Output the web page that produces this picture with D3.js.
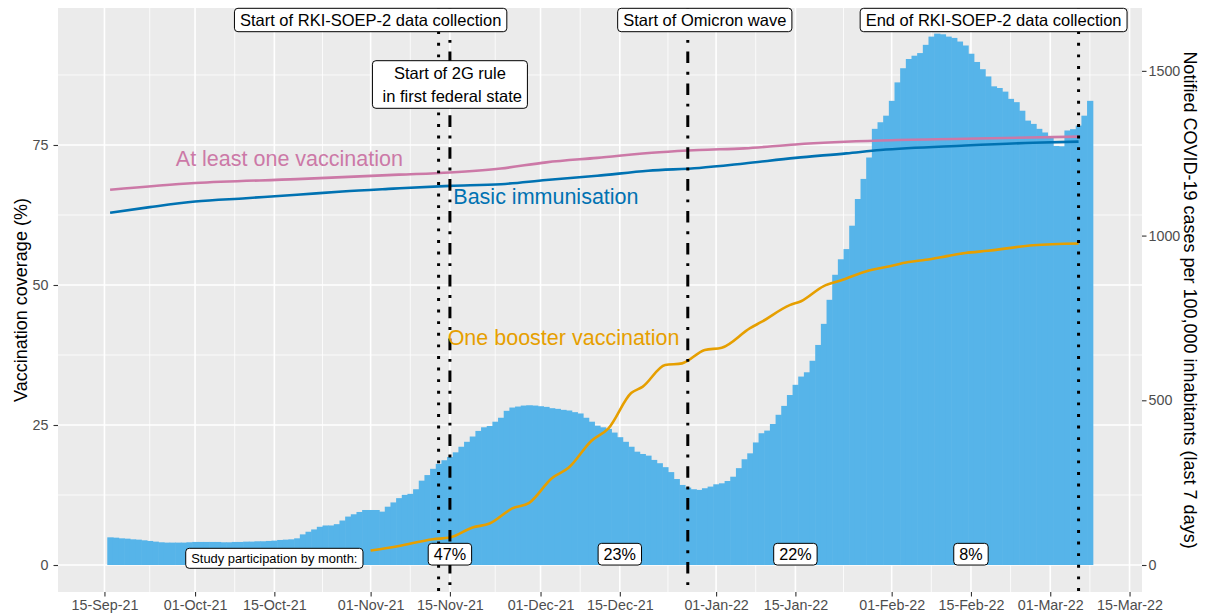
<!DOCTYPE html>
<html>
<head>
<meta charset="utf-8">
<script src="https://cdn.jsdelivr.net/npm/d3@7"></script>
<style>
  body { margin: 0; background: #fff; }
  svg { display: block; font-family: "Liberation Sans", Arial, sans-serif; }
</style>
</head>
<body>
<div id="chart"></div>
<script>
const svgWidth = 1206
const svgHeight = 616
const panel = { left: 58, right: 1142, top: 8, bottom: 592 }

// notified cases per 100,000 (last 7 days), one bar per day from caseStart
const caseStart = "2021-09-16"
const incidence = [
  84, 83, 81, 80, 78, 77, 75, 73, 71, 69,
  68, 68, 68, 68, 69, 70, 70, 70, 70, 70,
  69, 69, 70, 70, 71, 71, 72, 72, 73, 74,
  76, 77, 78, 81, 93, 101, 108, 116, 120, 120,
  124, 135, 147, 154, 161, 167, 167, 167, 162, 177,
  190, 203, 213, 216, 230, 256, 273, 292, 307, 318,
  328, 342, 359, 374, 390, 407, 418, 422, 435, 447,
  468, 478, 481, 484, 485, 484, 482, 480, 476, 474,
  471, 469, 464, 460, 447, 435, 423, 418, 413, 402,
  388, 374, 359, 344, 337, 332, 319, 309, 297, 282,
  261, 243, 235, 230, 228, 233, 238, 245, 248, 255,
  268, 294, 321, 339, 372, 400, 408, 428, 456, 483,
  516, 547, 572, 585, 620, 668, 732, 805, 881, 928,
  959, 1030, 1111, 1172, 1237, 1324, 1344, 1364, 1409, 1465,
  1508, 1536, 1546, 1554, 1579, 1604, 1613, 1611, 1604, 1600,
  1589, 1577, 1552, 1527, 1505, 1483, 1453, 1448, 1437, 1415,
  1405, 1379, 1349, 1339, 1324, 1313, 1301, 1272, 1271, 1319,
  1323, 1334, 1364, 1409
]

// vaccination coverage (%)
const firstDoseDates = ["2021-09-16", "2021-10-01", "2021-10-19", "2021-11-06", "2021-11-15",
  "2021-11-24", "2021-12-02", "2021-12-11", "2021-12-22", "2021-12-29", "2022-01-06",
  "2022-01-15", "2022-01-30", "2022-02-14", "2022-03-06"]
const firstDose = [67.0, 68.2, 68.9, 69.7, 70.1, 70.8, 71.9, 72.7, 73.7, 74.1, 74.4,
  75.1, 75.8, 76.1, 76.5]

const basicDates = ["2021-09-16", "2021-09-23", "2021-10-01", "2021-10-10", "2021-10-19",
  "2021-10-27", "2021-11-05", "2021-11-15", "2021-11-24", "2021-12-02", "2021-12-11",
  "2021-12-20", "2021-12-29", "2022-01-06", "2022-01-15", "2022-01-24", "2022-01-30",
  "2022-02-14", "2022-02-26", "2022-03-06"]
const basic = [62.9, 63.9, 64.9, 65.5, 66.1, 66.7, 67.2, 67.7, 68.0, 68.75, 69.5,
  70.4, 70.9, 71.7, 72.7, 73.5, 74.1, 74.9, 75.4, 75.6]

const boosterDates = ["2021-11-01", "2021-11-06", "2021-11-12", "2021-11-15", "2021-11-19",
  "2021-11-22", "2021-11-26", "2021-11-29", "2021-12-03", "2021-12-06", "2021-12-10",
  "2021-12-13", "2021-12-17", "2021-12-19", "2021-12-23", "2021-12-26", "2021-12-30",
  "2022-01-02", "2022-01-07", "2022-01-09", "2022-01-14", "2022-01-16", "2022-01-20",
  "2022-01-23", "2022-01-28", "2022-01-31", "2022-02-04", "2022-02-07", "2022-02-11",
  "2022-02-14", "2022-02-18", "2022-02-26", "2022-03-06"]
const booster = [2.6, 3.4, 4.6, 4.9, 6.7, 7.4, 10.1, 11.1, 15.5, 17.4, 22.2,
  24.4, 30.7, 31.8, 35.7, 36.0, 38.4, 38.8, 42.3, 43.4, 46.4, 47.1, 49.8,
  50.8, 52.6, 53.2, 54.1, 54.5, 55.2, 55.7, 56.1, 57.1, 57.4]

// events
const eventDates = ["2021-11-13", "2021-11-15", "2021-12-27", "2022-03-06"]
const eventTypes = ["dotted", "dotdash", "dotdash", "dotted"]

const topLabels = [
  { date: "2021-11-01", y: 20, lines: ["Start of RKI-SOEP-2 data collection"] },
  { date: "2021-11-15", y: 84.5, lines: ["Start of 2G rule", " in first federal state"] },
  { date: "2021-12-30", y: 20, lines: ["Start of Omicron wave"] },
  { date: "2022-02-19", y: 20, lines: ["End of RKI-SOEP-2 data collection"] }
]

const monthDates = ["2021-11-15", "2021-12-15", "2022-01-15", "2022-02-15"]
const participation = ["47%", "23%", "22%", "8%"]

const xTicks = ["2021-09-15", "2021-10-01", "2021-10-15", "2021-11-01", "2021-11-15",
  "2021-12-01", "2021-12-15", "2022-01-01", "2022-01-15", "2022-02-01", "2022-02-15",
  "2022-03-01", "2022-03-15"]
const yTicks = [0, 25, 50, 75]
const yTicksRight = [0, 500, 1000, 1500]

const casesPerPercent = 17
const day = 864e5
const parse = d3.utcParse("%Y-%m-%d")

let svg = d3.select("#chart")
  .append("svg")
  .attr("width", svgWidth)
  .attr("height", svgHeight)

let startDay = parse(caseStart)
let barData = incidence.map((v, i) => ({ date: new Date(+startDay + i * day), value: v }))

// x range = bar extent plus 5% each side
let x0 = +barData[0].date - day / 2
let x1 = +barData[barData.length - 1].date + day / 2
let pad = (x1 - x0) * 0.05
let x = d3.scaleUtc()
  .domain([new Date(x0 - pad), new Date(x1 + pad)])
  .range([panel.left, panel.right])

let yLeft = d3.scaleLinear().domain([-4.82, 99.46]).range([panel.bottom, panel.top])
let yRight = d3.scaleLinear()
  .domain(yLeft.domain().map(d => d * casesPerPercent))
  .range([panel.bottom, panel.top])

// panel + grid
svg.append("rect")
  .attr("x", panel.left).attr("y", panel.top)
  .attr("width", panel.right - panel.left).attr("height", panel.bottom - panel.top)
  .attr("fill", "#EBEBEB")

let tickDates = xTicks.map(parse)
let minorX = d3.pairs(tickDates).map(([a, b]) => new Date((+a + +b) / 2))
let minorY = d3.pairs(yTicks).map(([a, b]) => (a + b) / 2).concat([87.5])

let grid = svg.append("g").attr("stroke", "#fff")
grid.selectAll(".minx").data(minorX).enter().append("line")
  .attr("x1", d => x(d)).attr("x2", d => x(d))
  .attr("y1", panel.top).attr("y2", panel.bottom).attr("stroke-width", 0.8)
grid.selectAll(".miny").data(minorY).enter().append("line")
  .attr("y1", d => yLeft(d)).attr("y2", d => yLeft(d))
  .attr("x1", panel.left).attr("x2", panel.right).attr("stroke-width", 0.8)
grid.selectAll(".majx").data(tickDates).enter().append("line")
  .attr("x1", d => x(d)).attr("x2", d => x(d))
  .attr("y1", panel.top).attr("y2", panel.bottom).attr("stroke-width", 1.6)
grid.selectAll(".majy").data(yTicks).enter().append("line")
  .attr("y1", d => yLeft(d)).attr("y2", d => yLeft(d))
  .attr("x1", panel.left).attr("x2", panel.right).attr("stroke-width", 1.6)

// incidence bars
svg.append("g")
  .selectAll("rect")
  .data(barData)
  .enter()
  .append("rect")
  .attr("x", d => x(new Date(+d.date - day / 2)))
  .attr("width", d => x(new Date(+d.date + day / 2)) - x(new Date(+d.date - day / 2)) + 0.6)
  .attr("y", d => yRight(d.value))
  .attr("height", d => yRight(0) - yRight(d.value))
  .attr("fill", "#56B4E9")

// coverage lines
function drawLine(dates, values, colour) {
  let pts = dates.map((d, i) => [parse(d), values[i]])
  svg.append("path")
    .datum(pts)
    .attr("fill", "none")
    .attr("stroke", colour)
    .attr("stroke-width", 2.6)
    .attr("d", d3.line().curve(d3.curveMonotoneX).x(d => x(d[0])).y(d => yLeft(d[1])))
}
drawLine(firstDoseDates, firstDose, "#CC79A7")
drawLine(basicDates, basic, "#0072B2")
drawLine(boosterDates, booster, "#E69F00")

// event lines
const u = 2.9
svg.append("g")
  .selectAll("line")
  .data(eventDates)
  .enter()
  .append("line")
  .attr("x1", d => x(parse(d))).attr("x2", d => x(parse(d)))
  .attr("y1", panel.top).attr("y2", panel.bottom)
  .attr("stroke", "#000")
  .attr("stroke-width", 3)
  .attr("stroke-dasharray", (d, i) => eventTypes[i] === "dotted"
    ? `${u} ${3 * u}` : `${u} ${3 * u} ${4 * u} ${3 * u}`)

// series labels
function seriesLabel(text, date, value, colour) {
  svg.append("text")
    .attr("x", x(new Date(+parse(date) + day * 0.6)))
    .attr("y", yLeft(value))
    .attr("fill", colour)
    .attr("font-size", "21.5px")
    .text(text)
}
seriesLabel("At least one vaccination", "2021-09-27", 71.2, "#CC79A7")
seriesLabel("Basic immunisation", "2021-11-15", 64.4, "#0072B2")
seriesLabel("One booster vaccination", "2021-11-14", 39.2, "#E69F00")

// boxed labels
function boxLabel(lines, cx, cy, size, boxH, lineH) {
  let g = svg.append("g")
  let rect = g.append("rect")
  let n = lines.length
  let t = g.selectAll("text").data(lines).enter().append("text")
    .attr("x", cx)
    .attr("y", (d, k) => cy + 0.35 * size + (k - (n - 1) / 2) * lineH)
    .attr("text-anchor", "middle")
    .attr("font-size", size + "px")
    .attr("xml:space", "preserve")
    .style("white-space", "pre")
    .text(d => d)
  let w = d3.max(t.nodes(), nd => nd.getComputedTextLength())
  rect.attr("x", cx - w / 2 - 5.5).attr("width", w + 11)
    .attr("y", cy - boxH / 2).attr("height", boxH)
    .attr("rx", 3.5).attr("ry", 3.5)
    .attr("fill", "#fff").attr("stroke", "#000").attr("stroke-width", 1)
}
topLabels.forEach(l => boxLabel(l.lines, x(parse(l.date)), l.y, 16.5,
  l.lines.length === 1 ? 23.4 : 47.6, 23.4))
boxLabel(["Study participation by month:"], x(parse("2021-10-15")), 558.3, 12.9, 20, 15)
monthDates.forEach((d, i) => boxLabel([participation[i]], x(parse(d)), 554.2, 16.2, 21.7, 19))

// axes
function styleAxis(g) {
  g.select(".domain").remove()
  g.selectAll(".tick line").attr("stroke", "#333").attr("stroke-width", 1.1)
  g.selectAll(".tick text").attr("fill", "#4D4D4D").attr("font-size", "14.3px")
    .attr("font-family", "Liberation Sans, Arial, sans-serif")
}
svg.append("g")
  .attr("transform", `translate(0, ${panel.bottom})`)
  .call(d3.axisBottom(x).tickValues(tickDates).tickFormat(d3.utcFormat("%d-%b-%y"))
    .tickSize(4.5).tickPadding(3.3))
  .call(styleAxis)
svg.append("g")
  .attr("transform", `translate(${panel.left}, 0)`)
  .call(d3.axisLeft(yLeft).tickValues(yTicks).tickSize(4.5).tickPadding(5))
  .call(styleAxis)
svg.append("g")
  .attr("transform", `translate(${panel.right}, 0)`)
  .call(d3.axisRight(yRight).tickValues(yTicksRight).tickFormat(d3.format("d"))
    .tickSize(4.5).tickPadding(2))
  .call(styleAxis)

// axis titles
svg.append("text")
  .attr("transform", `translate(26.7, ${(panel.top + panel.bottom) / 2}) rotate(-90)`)
  .attr("text-anchor", "middle")
  .attr("font-size", "18px")
  .text("Vaccination coverage (%)")
svg.append("text")
  .attr("transform", `translate(1184, ${(panel.top + panel.bottom) / 2}) rotate(90)`)
  .attr("text-anchor", "middle")
  .attr("font-size", "18px")
  .text("Notified COVID-19 cases per 100,000 inhabitants (last 7 days)")
</script>
</body>
</html>
